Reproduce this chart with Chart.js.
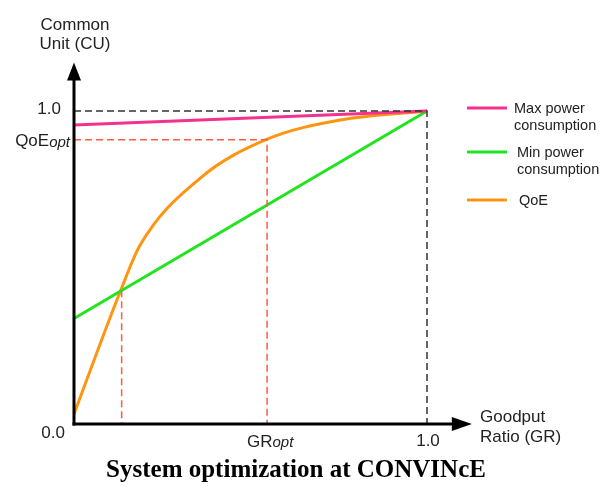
<!DOCTYPE html>
<html>
<head>
<meta charset="utf-8">
<script src="https://cdn.jsdelivr.net/npm/chart.js@4/dist/chart.umd.min.js"></script>
<style>
  html, body { margin: 0; padding: 0; background: #fff; }
  #wrap { position: relative; width: 602px; height: 486px; }
  #title {
    position: absolute; left: 0; top: 455px; width: 592px; text-align: center;
    font-family: "Liberation Serif", "Times New Roman", serif; font-weight: bold; font-size: 25px; color: #000;
  }
</style>
</head>
<body>
<div id="wrap">
  <canvas id="cv" width="602" height="486"></canvas>
  <div id="title">System optimization at CONVINcE</div>
</div>
<script>
// valeurs (x = Goodput Ratio, y = Common Unit)
const grValues  = [0, 0.130, 0.187, 0.357, 0.547, 0.754, 1.0];
const qoeValues = [0.032, 0.420, 0.571, 0.785, 0.910, 0.971, 1.0];
const powerX = [0, 1];
const maxPower = [0.955, 1.0];
const minPower = [0.337, 1.0];
const grOpt = 0.547;
const qoeOpt = 0.908;
const grCross = 0.135;
const qoeCross = 0.427;
const legendLabels = [['Max power', 'consumption'], ['Min power', 'consumption'], ['QoE']];
const lineColors = ['#f5318c', '#1fe51f', '#ff9412'];

const pts = (xs, ys) => xs.map((x, i) => ({ x: x, y: ys[i] }));

const dashStyle = { borderWidth: 1.5, borderDash: [7, 4], pointRadius: 0, tension: 0, fill: false, clip: false };

// axes, fleches, textes
const decor = {
  id: 'decor',
  afterDatasetsDraw(chart) {
    const c = chart.ctx, xs = chart.scales.x, ys = chart.scales.y;
    const x0 = xs.getPixelForValue(0), y0 = ys.getPixelForValue(0);
    const xTip = xs.getPixelForValue(1.127), yTip = ys.getPixelForValue(1.155);
    c.save();
    c.strokeStyle = '#000'; c.fillStyle = '#000'; c.lineWidth = 3;
    c.beginPath(); c.moveTo(x0, y0 + 1.5); c.lineTo(x0, yTip + 16); c.stroke();
    c.beginPath(); c.moveTo(x0 - 1.5, y0); c.lineTo(xTip - 18, y0); c.stroke();
    c.beginPath(); c.moveTo(x0, yTip); c.lineTo(x0 - 7, yTip + 18); c.lineTo(x0 + 7, yTip + 18); c.closePath(); c.fill();
    c.beginPath(); c.moveTo(xTip, y0); c.lineTo(xTip - 20, y0 - 7); c.lineTo(xTip - 20, y0 + 7); c.closePath(); c.fill();

    const f17 = '17px "Liberation Sans", Arial, sans-serif';
    const i15 = 'italic 15px "Liberation Sans", Arial, sans-serif';
    c.fillStyle = '#222';
    c.textBaseline = 'middle';
    c.font = f17;
    c.textAlign = 'center';
    c.fillText('Common', 75, 25);
    c.fillText('Unit (CU)', 75, 44);
    c.textAlign = 'right';
    c.fillText('1.0', 61, ys.getPixelForValue(1) - 2);
    c.fillText('0.0', 65, y0 + 9);
    c.textAlign = 'center';
    c.fillText('1.0', xs.getPixelForValue(1) + 1, y0 + 17);
    c.textAlign = 'left';
    c.fillText('Goodput', 480, 417);
    c.fillText('Ratio (GR)', 480, 437);

    // QoEopt
    const yq = ys.getPixelForValue(qoeOpt) + 2;
    c.font = i15;
    const wOpt = c.measureText('opt').width;
    c.textAlign = 'right';
    c.fillText('opt', 70, yq + 1);
    c.font = f17;
    c.fillText('QoE', 70 - wOpt, yq);
    // GRopt
    c.textAlign = 'left';
    const xg = 247;
    c.fillText('GR', xg, y0 + 18);
    const wGR = c.measureText('GR').width;
    c.font = i15;
    c.fillText('opt', xg + wGR, y0 + 19);

    // legende
    c.font = '14.5px "Liberation Sans", Arial, sans-serif';
    const legY = [108, 152, 200];
    const textX = [514, 517, 519];
    legendLabels.forEach((lab, i) => {
      c.strokeStyle = lineColors[i]; c.lineWidth = 3;
      c.beginPath(); c.moveTo(467, legY[i]); c.lineTo(507, legY[i]); c.stroke();
      c.fillStyle = '#222'; c.textAlign = 'left';
      lab.forEach((t, k) => c.fillText(t, textX[i], legY[i] + 1 + k * 16.5));
    });
    c.restore();
  }
};

new Chart(document.getElementById('cv'), {
  type: 'line',
  data: {
    datasets: [
      Object.assign({ data: [{ x: 0, y: 1 }, { x: 1, y: 1 }, { x: 1, y: 0 }], borderColor: '#333' }, dashStyle),
      Object.assign({ data: [{ x: 0, y: qoeOpt }, { x: grOpt, y: qoeOpt }, { x: grOpt, y: 0 }], borderColor: '#ff5a45' }, dashStyle),
      Object.assign({ data: [{ x: grCross, y: qoeCross }, { x: grCross, y: 0 }], borderColor: '#ff5a45' }, dashStyle),
      { label: 'Max power consumption', data: pts(powerX, maxPower), borderColor: lineColors[0], borderWidth: 3, pointRadius: 0, tension: 0, clip: false },
      { label: 'Min power consumption', data: pts(powerX, minPower), borderColor: lineColors[1], borderWidth: 3, pointRadius: 0, tension: 0, clip: false },
      { label: 'QoE', data: pts(grValues, qoeValues), borderColor: lineColors[2], borderWidth: 3, pointRadius: 0, cubicInterpolationMode: 'monotone', clip: false }
    ]
  },
  options: {
    responsive: false,
    animation: false,
    layout: { padding: { left: 74, right: 175, top: 111, bottom: 62 } },
    scales: {
      x: { type: 'linear', min: 0, max: 1, display: false },
      y: { type: 'linear', min: 0, max: 1, display: false }
    },
    plugins: { legend: { display: false }, tooltip: { enabled: false }, title: { display: false } }
  },
  plugins: [decor]
});
</script>
</body>
</html>
